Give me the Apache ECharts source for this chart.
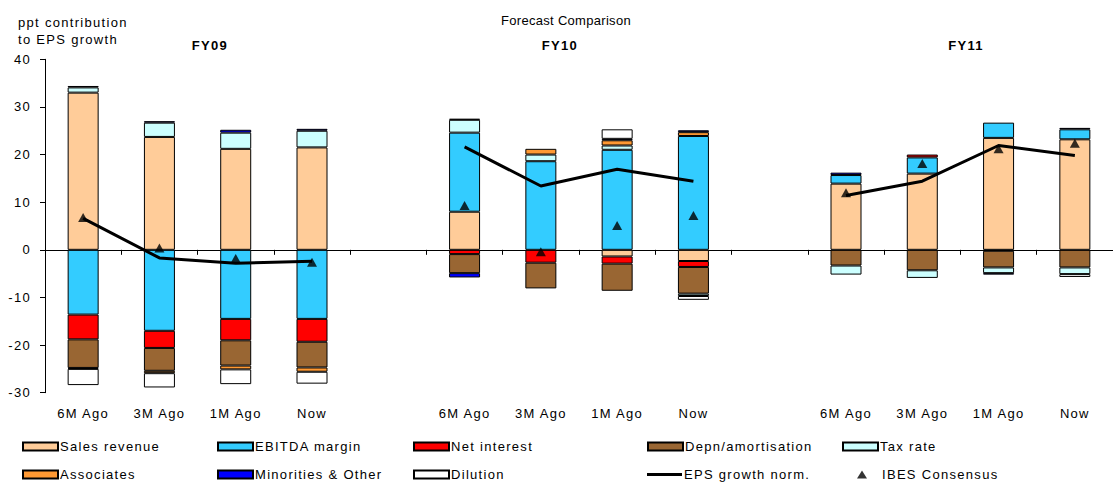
<!DOCTYPE html>
<html>
<head>
<meta charset="utf-8">
<script src="https://cdn.jsdelivr.net/npm/echarts@6/dist/echarts.min.js"></script>
<style>html,body{margin:0;padding:0;background:#fff;}#c{width:1113px;height:482px;}#c text{letter-spacing:1.3px;}#c text.tight{letter-spacing:0.3px;}</style>
</head>
<body>
<div id="c"></div>
<script>
// Slots: FY09 (0-3), gap (4), FY10 (5-8), gap (9), FY11 (10-13)
const categories = ['6M Ago','3M Ago','1M Ago','Now','','6M Ago','3M Ago','1M Ago','Now','','6M Ago','3M Ago','1M Ago','Now'];
const groupTitles = ['FY09','FY10','FY11'];
const yTicks = {min: -30, max: 40, interval: 10};

const salesRevenue = [33.0, 23.7, 21.2, 21.5, null, 8.0, null, -1.4, -2.35, null, 13.9, 16.0, 23.5, 23.2];
const ebitdaMargin = [-13.6, -17.0, -14.5, -14.5, null, 16.6, 18.6, 21.0, 23.9, null, 1.8, 3.4, 3.2, 2.1];
const netInterest  = [-5.2, -3.6, -4.5, -4.8, null, -0.9, -2.7, -1.5, -1.25, null, null, 0.6, -0.2, null];
const depn         = [-6.0, -4.8, -5.3, -5.4, null, -4.0, -5.4, -5.7, -5.6, null, -3.3, -4.3, -3.5, -3.7];
const taxRate      = [1.1, 3.0, 3.4, 3.5, null, 2.7, 1.4, 0.9, -0.5, null, -1.9, -1.6, -1.2, -1.4];
const associates   = [-0.2, -0.5, -0.8, -0.9, null, null, 1.2, 1.1, 0.8, null, null, null, null, null];
const minorities   = [0.3, 0.3, 0.6, 0.4, null, -0.9, null, 0.3, 0.4, null, 0.5, null, -0.3, 0.3];
const dilution     = [-3.4, -3.0, -3.1, -2.5, null, 0.2, null, 2.0, -0.8, null, null, null, null, -0.6];
const epsGrowth    = [6.6, -1.7, -2.8, -2.4, null, 21.6, 13.4, 16.9, 14.4, null, 11.4, 14.4, 21.9, 19.8];
const ibesConsensus= [6.8, 0.4, -1.8, -2.6, null, 9.3, -0.4, 5.1, 7.2, null, 12.0, 18.1, 21.2, 22.4];

const barSeries = [
  ['Sales revenue', salesRevenue, '#FFCC99'],
  ['EBITDA margin', ebitdaMargin, '#33CCFF'],
  ['Net interest', netInterest, '#FF0000'],
  ['Depn/amortisation', depn, '#996633'],
  ['Tax rate', taxRate, '#CCFFFF'],
  ['Associates', associates, '#FF9933'],
  ['Minorities & Other', minorities, '#0000FF'],
  ['Dilution', dilution, '#FFFFFF']
];

const FONT = 'Liberation Sans, Arial, sans-serif';
const chart = echarts.init(document.getElementById('c'), null, {renderer: 'svg'});

const series = barSeries.map(([name, data, color]) => ({
  name, type: 'bar', stack: 'total', data, barWidth: 31,
  xAxisIndex: 0, yAxisIndex: 0,
  itemStyle: {color, borderColor: '#000', borderWidth: 1},
  emphasis: {disabled: true}, animation: false
}));
series.push({
  name: 'EPS growth norm.', type: 'line', data: epsGrowth, xAxisIndex: 0,
  symbol: 'none', connectNulls: false, z: 5,
  lineStyle: {color: '#000', width: 3}, itemStyle: {color: '#000'}, animation: false
});
series.push({
  name: 'IBES Consensus', type: 'scatter', data: ibesConsensus, xAxisIndex: 0,
  symbol: 'triangle', symbolSize: [10, 9], z: 6,
  itemStyle: {color: '#000'}, animation: false
});

const legText = {fontFamily: FONT, fontSize: 13, color: '#000', padding: [0, 0, 0, -3]};
function leg(name, left, top, opts) {
  return Object.assign({
    data: [{name, icon: 'rect'}], left, top, orient: 'horizontal', padding: 0,
    itemWidth: 35, itemHeight: 8, itemGap: 0, selectedMode: false,
    textStyle: legText
  }, opts || {});
}

const legends = [
  leg('Sales revenue', 22, 440), leg('EBITDA margin', 217, 440), leg('Net interest', 413, 440),
  leg('Depn/amortisation', 647, 440), leg('Tax rate', 842, 440),
  leg('Associates', 22, 468), leg('Minorities & Other', 217, 468), leg('Dilution', 413, 468),
  leg('EPS growth norm.', 647, 468, {itemHeight: 3}),
  leg('IBES Consensus', 857, 468, {itemWidth: 10, itemHeight: 8, data: [{name: 'IBES Consensus', icon: 'triangle'}],
      textStyle: Object.assign({}, legText, {padding: [0, 0, 0, 10]})})
];

const titleStyle = (w) => ({fontFamily: FONT, fontSize: 13, fontWeight: w, color: '#000'});

chart.setOption({
  backgroundColor: '#fff',
  animation: false,
  textStyle: {fontFamily: FONT},
  title: [
    {text: 'ppt contribution\nto EPS growth', left: 18, top: 14, padding: 0, textStyle: Object.assign(titleStyle('normal'), {lineHeight: 17})},
    {text: 'Forecast Comparison', left: 566, top: 14, padding: 0, textAlign: 'center', textStyle: titleStyle('normal')},
    {text: groupTitles[0], left: 210, top: 39, padding: 0, textAlign: 'center', textStyle: titleStyle('bold')},
    {text: groupTitles[1], left: 560, top: 39, padding: 0, textAlign: 'center', textStyle: titleStyle('bold')},
    {text: groupTitles[2], left: 966, top: 39, padding: 0, textAlign: 'center', textStyle: titleStyle('bold')}
  ],
  legend: legends,
  grid: {left: 45, top: 59.3, width: 1079, height: 333.4, containLabel: false},
  xAxis: [
    {type: 'category', data: categories, boundaryGap: true,
     axisLine: {onZero: true, lineStyle: {color: '#000', width: 1}},
     axisTick: {show: true, inside: false, length: 5, lineStyle: {color: '#000'}},
     axisLabel: {show: false}, splitLine: {show: false}},
    {type: 'category', data: categories, position: 'bottom', boundaryGap: true,
     axisLine: {show: false, onZero: false}, axisTick: {show: false},
     axisLabel: {show: true, interval: 0, margin: 14, fontFamily: FONT, fontSize: 13, color: '#000'},
     splitLine: {show: false}}
  ],
  yAxis: {
    type: 'value', min: yTicks.min, max: yTicks.max, interval: yTicks.interval,
    axisLine: {show: true, lineStyle: {color: '#000', width: 1}},
    axisTick: {show: true, length: 5, lineStyle: {color: '#000'}},
    axisLabel: {margin: 14, fontFamily: FONT, fontSize: 13, color: '#000'},
    splitLine: {show: false}
  },
  series
});

document.querySelectorAll('#c text').forEach(t => {
  if (t.textContent === 'Forecast Comparison') t.classList.add('tight');
});
</script>
</body>
</html>
